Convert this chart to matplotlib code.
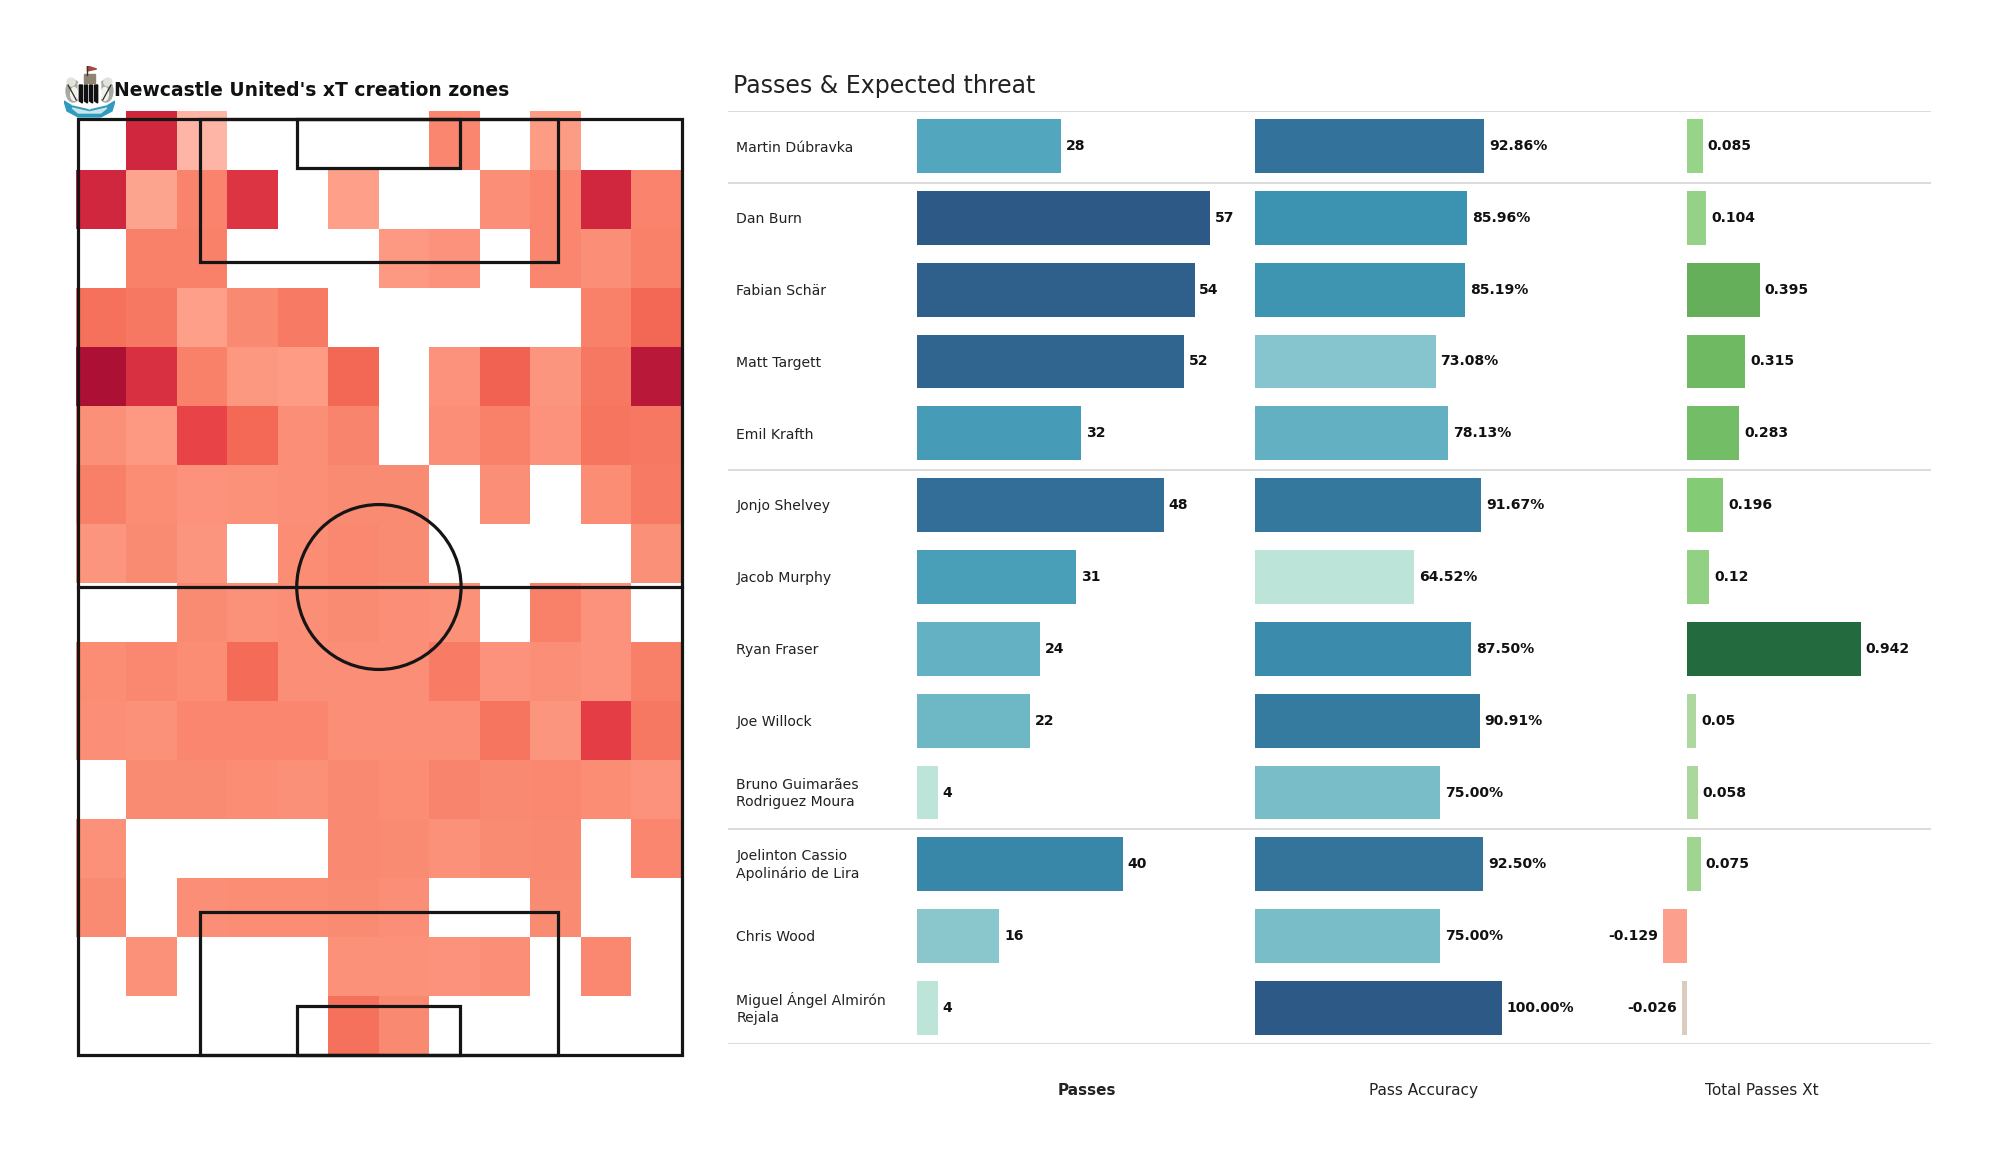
import numpy as np
import matplotlib
matplotlib.use("Agg")
import matplotlib.pyplot as plt
from matplotlib.colors import LinearSegmentedColormap, Normalize
from matplotlib.patches import Circle, Ellipse, Polygon, Rectangle

plt.rcParams["font.family"] = "DejaVu Sans"

W, H = 2000, 1175

players = [
    "Martin Dúbravka", "Dan Burn", "Fabian Schär", "Matt Targett", "Emil Krafth",
    "Jonjo Shelvey", "Jacob Murphy", "Ryan Fraser", "Joe Willock",
    "Bruno Guimarães\nRodriguez Moura", "Joelinton Cassio\nApolinário de Lira",
    "Chris Wood", "Miguel Ángel Almirón\nRejala",
]
passes = [28, 57, 54, 52, 32, 48, 31, 24, 22, 4, 40, 16, 4]
accuracy = [92.86, 85.96, 85.19, 73.08, 78.13, 91.67, 64.52, 87.50, 90.91, 75.00, 92.50, 75.00, 100.00]
total_xt = [0.085, 0.104, 0.395, 0.315, 0.283, 0.196, 0.12, 0.942, 0.05, 0.058, 0.075, -0.129, -0.026]
group_edges = [-0.5, 0.5, 4.5, 9.5, 12.5]

n = np.nan
# xT per zone, 16 rows (top to bottom) by 12 columns
zones = [
    [n, .87, .05, n, n, n, n, .30, n, .15, n, n],
    [.87, .12, .32, .80, n, .14, n, n, .25, .30, .87, .32],
    [n, .33, .33, n, n, n, .17, .22, n, .30, .25, .33],
    [.42, .38, .14, .28, .37, n, n, n, n, n, .33, .47],
    [1.0, .82, .33, .18, .16, .47, n, .22, .50, .20, .38, .95],
    [.24, .17, .70, .46, .25, .31, n, .25, .33, .22, .40, .38],
    [.34, .26, .22, .23, .25, .27, .27, n, .25, n, .26, .37],
    [.20, .27, .20, n, .26, .29, .27, n, n, n, n, .24],
    [n, n, .27, .23, .25, .27, .25, .23, n, .33, .22, n],
    [.26, .29, .26, .45, .25, .25, .25, .36, .22, .25, .22, .34],
    [.25, .23, .30, .30, .30, .25, .25, .25, .40, .20, .75, .38],
    [n, .27, .27, .26, .24, .28, .26, .31, .28, .29, .26, .22],
    [.23, n, n, n, n, .28, .27, .23, .27, .28, n, .30],
    [.27, n, .25, .26, .26, .27, .25, n, n, .27, n, n],
    [n, .23, n, n, n, .23, .23, .22, .25, n, .29, n],
    [n, n, n, n, n, .42, .28, n, n, n, n, n],
]

zone_cmap = LinearSegmentedColormap.from_list("zones", [
    (0.0, "#ffc0b4"), (0.15, "#fd9c85"), (0.25, "#fb8e76"), (0.35, "#f87e67"),
    (0.45, "#f46b57"), (0.55, "#f0594e"), (0.75, "#e53e46"), (0.87, "#d0263e"),
    (1.0, "#ad1035"),
])
blue_cmap = LinearSegmentedColormap.from_list("blues", [
    (0.0, "#bce4d8"), (0.25, "#84c4cc"), (0.45, "#52a6bd"), (0.6, "#3c93b1"),
    (0.8, "#33729a"), (1.0, "#2c5985"),
])
xt_min, xt_max = -0.129, 0.942
xt_stops = [(-0.129, "#fca08d"), (-0.026, "#d9cdc0"), (0.05, "#aed89f"), (0.085, "#98d38a"),
            (0.196, "#84cb76"), (0.283, "#73bd67"), (0.395, "#65af5b"), (0.942, "#236b3f")]
xt_cmap = LinearSegmentedColormap.from_list(
    "xt", [((v - xt_min) / (xt_max - xt_min), c) for v, c in xt_stops])


def px_axes(fig, left, top, right, bottom, **kw):
    # axes placed by pixel box, y counted from the top of the picture
    ax = fig.add_axes([left / W, 1 - bottom / H, (right - left) / W, (bottom - top) / H], **kw)
    ax.axis("off")
    return ax


def draw_pitch(ax):
    lw = 2.3
    c = "#151515"
    length, width = 105, 68
    box_depth, six_depth = 16.0, 5.5
    lines = [
        Rectangle((0, 0), width, length),
        Rectangle((13.7, 0), 40.32, box_depth),
        Rectangle((24.7, 0), 18.32, six_depth),
        Rectangle((13.7, length - box_depth), 40.32, box_depth),
        Rectangle((24.7, length - six_depth), 18.32, six_depth),
        Circle((width / 2 - 0.12, length / 2), 9.25),
    ]
    for p in lines:
        p.set(fill=False, edgecolor=c, linewidth=lw, clip_on=False, zorder=3)
        ax.add_patch(p)
    ax.plot([0, width], [length / 2, length / 2], color=c, lw=lw, zorder=3, clip_on=False)


def draw_badge(ax):
    ax.set_xlim(0, 50)
    ax.set_ylim(52, 0)
    # ribbon under the shield
    ax.add_patch(Polygon([(0, 35), (8, 40), (25, 44), (42, 40), (50, 35), (47, 45), (36, 51),
                          (14, 51), (3, 45)], color="#2f9cbd"))
    ax.add_patch(Polygon([(8, 42), (25, 46), (42, 42), (36, 47), (14, 47)], color="#c9e4ea"))
    # supporters
    for cx, sign in ((9, 1), (41, -1)):
        ax.add_patch(Ellipse((cx, 25), 14, 22, color="#a9a99f"))
        ax.add_patch(Ellipse((cx - 2 * sign, 16), 8, 8, color="#e3e3dc"))
        ax.add_patch(Ellipse((cx + 1 * sign, 28), 7, 13, color="#f2f2ec"))
        ax.plot([cx - 5 * sign, cx + 3 * sign], [19, 34], color="#2a2a2a", lw=0.9)
    # shield
    ax.add_patch(Polygon([(14, 17), (36, 17), (36, 33), (25, 43), (14, 33)], color="white"))
    for x in (15, 20, 25, 30):
        ax.add_patch(Polygon([(x, 19), (x + 3, 19), (x + 3, 37), (x, 35)], color="#111111"))
    # castle and flag
    ax.add_patch(Rectangle((20, 8), 10, 9, color="#8f8572"))
    ax.plot([23, 23], [0, 9], color="#333333", lw=1)
    ax.add_patch(Polygon([(23, 0), (32, 3), (23, 5)], color="#a8483f"))


fig = plt.figure(figsize=(W / 100, H / 100), dpi=100, facecolor="white")

# heat map with pitch drawn on top
pitch = px_axes(fig, 76, 111, 682, 1055)
pitch.set_xlim(-0.22, 68)
pitch.set_ylim(105, -0.9)
x_edges = np.linspace(-0.22, 68, 13)
y_edges = np.linspace(-0.9, 105, 17)
pitch.pcolormesh(x_edges, y_edges, np.ma.masked_invalid(zones), cmap=zone_cmap, vmin=0, vmax=1,
                 edgecolors="none")
draw_pitch(pitch)

badge = px_axes(fig, 64, 66, 115, 118)
draw_badge(badge)
fig.text(114 / W, 1 - 90.5 / H, "Newcastle United's xT creation zones", fontsize=13.5,
         fontweight="bold", va="center", color="#111111")

# table frame and player names
table = px_axes(fig, 728, 111, 1931, 1044)
table.set_xlim(0, 1)
table.set_ylim(12.5, -0.5)
table.hlines(group_edges, 0, 1, color="#dcdcdc", lw=1.4)
for i, name in enumerate(players):
    table.text(0.007, i + 0.01, name, va="center", ha="left", fontsize=10.1, linespacing=1.3,
               color="#222222")
fig.text(733 / W, 1 - 86 / H, "Passes & Expected threat", fontsize=17, va="center", color="#222222")

y = np.arange(len(players))
bar_h = 0.75


def bar_panel(box, xlim, values, colors, labels):
    ax = px_axes(fig, box[0], 110, box[1], 1044)
    ax.set_xlim(*xlim)
    ax.set_ylim(12.5, -0.5)
    ax.barh(y, values, height=bar_h, color=colors)
    for yi, v, lab in zip(y, values, labels):
        neg = v < 0
        ax.annotate(lab, (v, yi), xytext=(-3.6 if neg else 3.4, 0), textcoords="offset points",
                    ha="right" if neg else "left", va="center", fontsize=10.1, fontweight="bold",
                    color="#111111")
    return ax


pass_norm = Normalize(min(passes), max(passes))
acc_norm = Normalize(min(accuracy), max(accuracy))
xt_norm = Normalize(xt_min, xt_max)

bar_panel((917, 1240), (0, 323 / 5.14), passes, blue_cmap(pass_norm(passes)), [str(v) for v in passes])
bar_panel((1255, 1600), (0, 345 / 2.47), accuracy, blue_cmap(acc_norm(accuracy)),
          [f"{v:.2f}%" for v in accuracy])
bar_panel((1600, 1931), (-87 / 184.7, 244 / 184.7), total_xt, xt_cmap(xt_norm(total_xt)),
          [str(v) for v in total_xt])

fig.text(1087 / W, 1 - 1090.5 / H, "Passes", ha="center", va="center", fontsize=11, fontweight="bold",
         color="#222222")
fig.text(1424 / W, 1 - 1090.5 / H, "Pass Accuracy", ha="center", va="center", fontsize=11.1, color="#222222")
fig.text(1762 / W, 1 - 1090.5 / H, "Total Passes Xt", ha="center", va="center", fontsize=11.1, color="#222222")

fig.savefig("out.png", dpi=100)
